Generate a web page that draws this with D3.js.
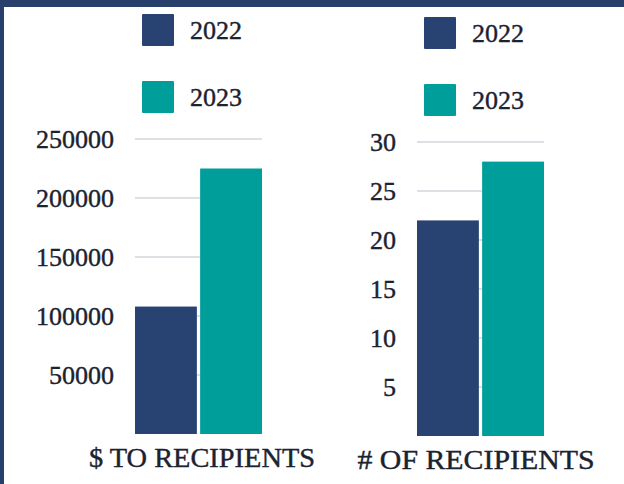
<!DOCTYPE html>
<html>
<head>
<meta charset="utf-8">
<script src="https://cdn.jsdelivr.net/npm/d3@7"></script>
<style>
  body { margin: 0; background: #fff; }
  svg { display: block; font-family: "Liberation Serif", "Times New Roman", serif; }
</style>
</head>
<body>
<div id="chart"></div>
<script>
// data
const years = ["2022", "2023"];
const dollarsToRecipients = [108000, 225000];
const numRecipients = [22, 28];
const dollarTicks = [50000, 100000, 150000, 200000, 250000];
const countTicks = [5, 10, 15, 20, 25, 30];
const panelTitles = ["$ TO RECIPIENTS", "# OF RECIPIENTS"];

//size
const width = 624;
const height = 484;
const navy = "#284372";
const teal = "#009e9b";
const textColor = "#1b2230";

const color = d3.scaleOrdinal().domain(years).range([navy, teal]);

const svg = d3.select("#chart")
  .append("svg")
  .attr("width", width)
  .attr("height", height);

svg.append("rect").attr("width", width).attr("height", height).attr("fill", "#fff");
// frame (top + left edges of the slide)
svg.append("rect").attr("x", 0).attr("y", 0).attr("width", width).attr("height", 7).attr("fill", "#263f6b");
svg.append("rect").attr("x", 0).attr("y", 0).attr("width", 4).attr("height", height).attr("fill", "#263f6b");

function panel(cfg) {
  const x = d3.scaleBand()
    .domain(years)
    .range([cfg.left, cfg.right])
    .paddingInner(0.05);

  const y = d3.scaleLinear()
    .domain([0, cfg.max])
    .range([cfg.bottom, cfg.top]);

  const g = svg.append("g");

  // gridlines
  g.append("g")
    .selectAll("line")
    .data(cfg.ticks)
    .join("line")
    .attr("x1", cfg.left)
    .attr("x2", cfg.right)
    .attr("y1", (d) => y(d))
    .attr("y2", (d) => y(d))
    .attr("stroke", "#dde1e6")
    .attr("stroke-width", 2);

  // y axis labels
  g.append("g")
    .attr("transform", `translate(${cfg.labelX},0)`)
    .call(d3.axisLeft(y).tickValues(cfg.ticks).tickFormat(d3.format("d")).tickSize(0).tickPadding(0))
    .call((a) => {
      a.select(".domain").remove();
      a.selectAll("text")
        .attr("font-family", "Liberation Serif, serif")
        .attr("font-size", 26)
        .attr("fill", textColor)
        .attr("stroke", textColor)
        .attr("stroke-width", 0.4);
    });

  // bars
  g.append("g")
    .selectAll("rect")
    .data(cfg.values)
    .join("rect")
    .attr("x", (d, i) => x(years[i]))
    .attr("y", (d) => y(d))
    .attr("width", x.bandwidth())
    .attr("height", (d) => cfg.bottom - y(d))
    .attr("fill", (d, i) => color(years[i]));

  // legend
  const leg = g.append("g")
    .selectAll("g")
    .data(years)
    .join("g")
    .attr("transform", (d, i) => `translate(${cfg.left + 7},${cfg.legendY + i * 67})`);
  leg.append("rect")
    .attr("width", 32)
    .attr("height", 32)
    .attr("rx", 1)
    .attr("fill", (d) => color(d));
  leg.append("text")
    .attr("x", 48)
    .attr("y", 16)
    .attr("dy", "0.35em")
    .attr("font-size", 26)
    .attr("fill", textColor)
    .attr("stroke", textColor)
    .attr("stroke-width", 0.4)
    .text((d) => d);

  // category label
  g.append("text")
    .attr("x", cfg.titleX)
    .attr("y", cfg.titleY)
    .attr("text-anchor", "middle")
    .attr("font-size", 27)
    .attr("fill", textColor)
    .attr("stroke", textColor)
    .attr("stroke-width", 0.4)
    .attr("textLength", cfg.titleW)
    .attr("lengthAdjust", "spacingAndGlyphs")
    .text(cfg.title);
}

panel({
  left: 135, right: 262, top: 139, bottom: 434,
  max: 250000, ticks: dollarTicks, values: dollarsToRecipients,
  labelX: 114, legendY: 14,
  title: panelTitles[0], titleX: 202, titleY: 467, titleW: 226
});

panel({
  left: 417, right: 544, top: 142, bottom: 436,
  max: 30, ticks: countTicks, values: numRecipients,
  labelX: 396, legendY: 17,
  title: panelTitles[1], titleX: 476, titleY: 469, titleW: 237
});
</script>
</body>
</html>
